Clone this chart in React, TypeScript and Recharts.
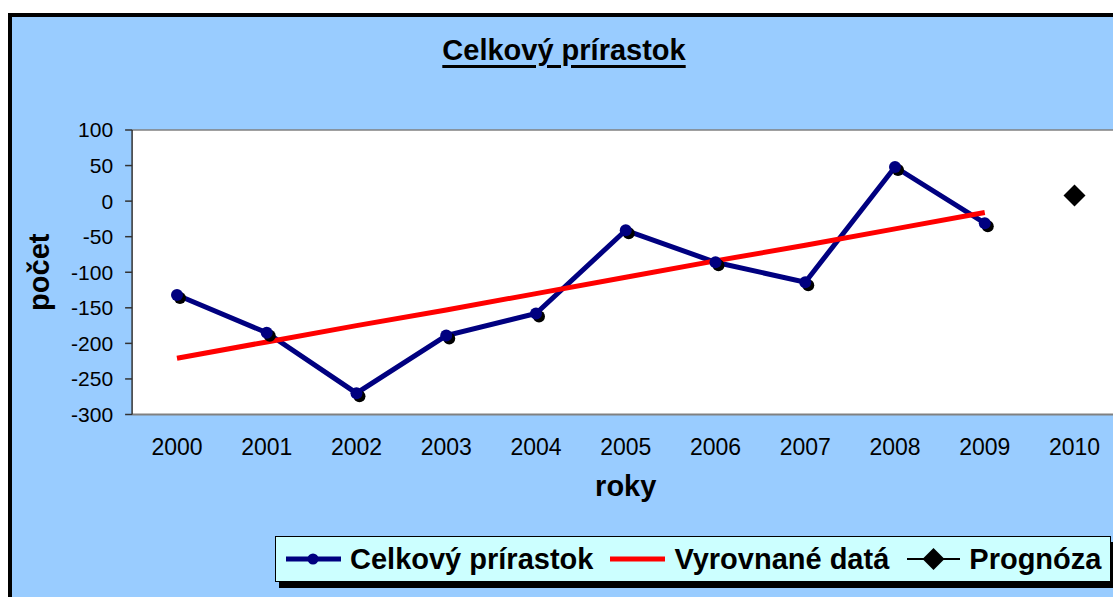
import { ComposedChart, Line, XAxis, YAxis, CartesianGrid, ReferenceLine } from "recharts";

const years = ["2000", "2001", "2002", "2003", "2004", "2005", "2006", "2007", "2008", "2009", "2010"];
const celkovy = [-132, -185, -270, -189, -158, -41, -86, -114, 48, -31, null];
const vyrovnane = [-221, -198, -175, -153, -130, -107, -84, -62, -39, -16, null];
const prognoza = [null, null, null, null, null, null, null, null, null, null, 8];
const yTicks = [-300, -250, -200, -150, -100, -50, 0, 50, 100];
const seriesNames = ["Celkový prírastok", "Vyrovnané datá", "Prognóza"];

const data = years.map((rok, i) => ({
  rok,
  celkovy: celkovy[i],
  vyrovnane: vyrovnane[i],
  prognoza: prognoza[i],
}));

const FONT = '"Liberation Sans", Arial, sans-serif';
const NAVY = "#000080";

function NavyDot(props: any) {
  const { cx, cy, index } = props;
  if (cx == null || cy == null) return <g key={`d${index}`} />;
  return (
    <g key={`d${index}`}>
      <circle cx={cx + 3} cy={cy + 3} r={6} fill="#000" />
      <circle cx={cx} cy={cy} r={6} fill={NAVY} />
    </g>
  );
}

function DiamondDot(props: any) {
  const { cx, cy, index } = props;
  if (cx == null || cy == null) return <g key={`p${index}`} />;
  const s = 11;
  return (
    <path
      key={`p${index}`}
      d={`M${cx},${cy - s}L${cx + s},${cy}L${cx},${cy + s}L${cx - s},${cy}Z`}
      fill="#000"
    />
  );
}

function LegendBox() {
  const text = { fontFamily: FONT, fontWeight: 700, fontSize: 29, color: "#000", whiteSpace: "nowrap" as const };
  return (
    <div
      style={{
        position: "absolute",
        left: 275,
        top: 536,
        width: 834,
        height: 44,
        background: "#CCFFFF",
        border: "1.5px solid #000",
        boxShadow: "4px 6px 0 #000",
        display: "flex",
        alignItems: "center",
        boxSizing: "content-box",
      }}
    >
      <svg width={55} height={14} style={{ marginLeft: 10 }}>
        <line x1={0} y1={7} x2={55} y2={7} stroke={NAVY} strokeWidth={5} />
        <circle cx={27} cy={7} r={5.5} fill={NAVY} />
      </svg>
      <span style={{ ...text, marginLeft: 9 }}>{seriesNames[0]}</span>
      <svg width={55} height={14} style={{ marginLeft: 17 }}>
        <line x1={0} y1={7} x2={55} y2={7} stroke="#FF0000" strokeWidth={5} />
      </svg>
      <span style={{ ...text, marginLeft: 9 }}>{seriesNames[1]}</span>
      <svg width={53} height={24} style={{ marginLeft: 18 }}>
        <line x1={0} y1={12} x2={53} y2={12} stroke="#000" strokeWidth={2} />
        <path d="M26.5,1L37.5,12L26.5,23L15.5,12Z" fill="#000" />
      </svg>
      <span style={{ ...text, marginLeft: 9 }}>{seriesNames[2]}</span>
    </div>
  );
}

export default function App() {
  return (
    <div style={{ position: "fixed", left: 0, top: 0, width: 1113, height: 597, overflow: "hidden", background: "#fff" }}>
      <div
        style={{
          position: "absolute",
          left: 8,
          top: 13,
          width: 1200,
          height: 700,
          background: "#99CCFF",
          borderLeft: "4px solid #000",
          borderTop: "4px solid #000",
        }}
      />
      <div
        style={{
          position: "absolute",
          left: 564,
          top: 36,
          transform: "translateX(-50%)",
          fontFamily: FONT,
          fontWeight: 700,
          fontSize: 29,
          lineHeight: "29px",
          whiteSpace: "nowrap",
          textDecoration: "underline",
          textDecorationThickness: "3px",
          textUnderlineOffset: "5px",
        }}
      >
        Celkový prírastok
      </div>
      <div style={{ position: "absolute", left: 0, top: 0 }}>
        <ComposedChart
          width={1200}
          height={597}
          data={data}
          margin={{ top: 130, right: 80.6, bottom: 142.5, left: 72.1 }}
        >
          <CartesianGrid fill="#fff" horizontal={false} vertical={false} />
          <ReferenceLine y={100} stroke="#808080" strokeWidth={1.5} />
          <XAxis
            dataKey="rok"
            scale="band"
            height={40}
            tickSize={0}
            tickMargin={24}
            axisLine={{ stroke: "#808080", strokeWidth: 2 }}
            tick={{ fill: "#000", fontSize: 23, fontFamily: FONT }}
            interval={0}
            label={({ viewBox }: any) => (
              <text
                x={viewBox.x + viewBox.width / 2}
                y={viewBox.y + 81.5}
                textAnchor="middle"
                fontFamily={FONT}
                fontWeight={700}
                fontSize={29}
                fill="#000"
              >
                roky
              </text>
            )}
          />
          <YAxis
            width={60}
            domain={[-300, 100]}
            ticks={yTicks}
            interval={0}
            tickSize={7}
            tickMargin={12}
            axisLine={{ stroke: "#333", strokeWidth: 1.5 }}
            tickLine={{ stroke: "#333", strokeWidth: 1.5 }}
            tick={{ fill: "#000", fontSize: 21, fontFamily: FONT }}
            label={({ viewBox }: any) => (
              <text
                x={viewBox.x - 33}
                y={viewBox.y + viewBox.height / 2}
                transform={`rotate(-90 ${viewBox.x - 33} ${viewBox.y + viewBox.height / 2})`}
                textAnchor="middle"
                dominantBaseline="central"
                fontFamily={FONT}
                fontWeight={700}
                fontSize={29}
                fill="#000"
              >
                počet
              </text>
            )}
          />
          <Line
            dataKey="celkovy"
            name={seriesNames[0]}
            stroke={NAVY}
            strokeWidth={5}
            dot={NavyDot}
            activeDot={false}
            isAnimationActive={false}
          />
          <Line
            dataKey="vyrovnane"
            name={seriesNames[1]}
            stroke="#FF0000"
            strokeWidth={5}
            dot={false}
            activeDot={false}
            isAnimationActive={false}
          />
          <Line
            dataKey="prognoza"
            name={seriesNames[2]}
            stroke="none"
            dot={DiamondDot}
            activeDot={false}
            isAnimationActive={false}
          />
        </ComposedChart>
      </div>
      <LegendBox />
    </div>
  );
}
